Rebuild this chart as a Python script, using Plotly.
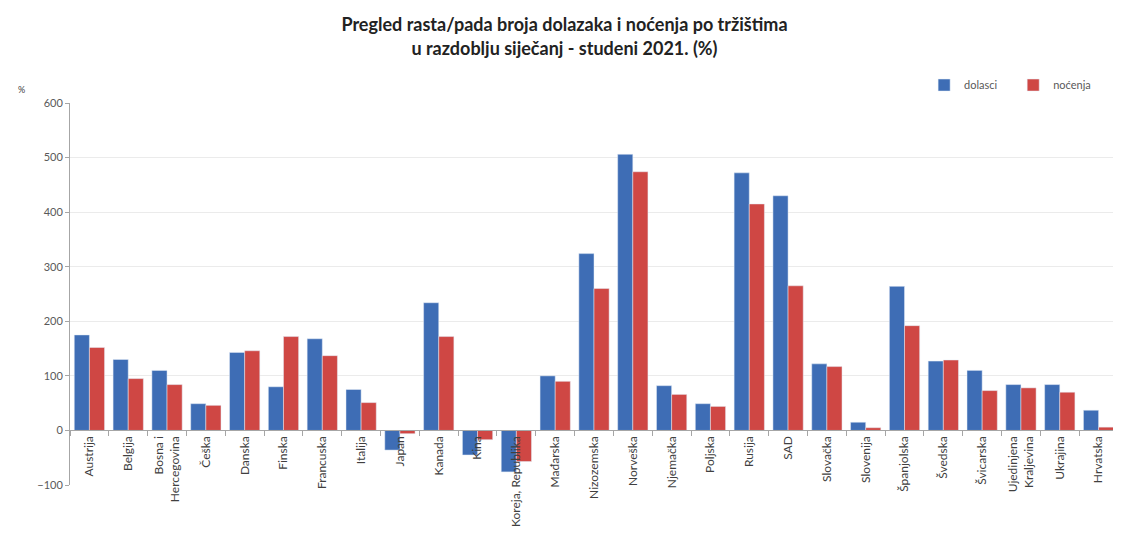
import plotly.graph_objects as go

# categories (markets) and growth values in %
markets = [
    "Austrija", "Belgija", "Bosna i<br>Hercegovina", "Češka", "Danska", "Finska",
    "Francuska", "Italija", "Japan", "Kanada", "Kina", "Koreja, Republika",
    "Mađarska", "Nizozemska", "Norveška", "Njemačka", "Poljska", "Rusija", "SAD",
    "Slovačka", "Slovenija", "Španjolska", "Švedska", "Švicarska",
    "Ujedinjena<br>Kraljevina", "Ukrajina", "Hrvatska",
]
dolasci = [175, 130, 110, 49, 143, 80, 168, 75, -36, 234, -45, -76,
           100, 324, 506, 82, 49, 472, 430, 122, 15, 264, 127, 110, 84, 84, 37]
nocenja = [152, 95, 84, 46, 146, 172, 137, 51, -6, 172, -17, -57,
           90, 260, 474, 66, 44, 415, 265, 117, 5, 192, 129, 73, 78, 70, 6]
y_ticks = [-100, 0, 100, 200, 300, 400, 500, 600]

BLUE = "#3E6DB5"
RED = "#CF4744"
FONT = "Lato, 'Open Sans', sans-serif"

fig = go.Figure()
fig.add_trace(go.Bar(x=markets, y=dolasci, name="dolasci", marker_color=BLUE,
                     legend="legend", showlegend=True))
fig.add_trace(go.Bar(x=markets, y=nocenja, name="noćenja", marker_color=RED,
                     legend="legend2", showlegend=True))

y_min, y_max = -100, 600
zero_pos = (0 - y_min) / (y_max - y_min)

legend_style = dict(
    orientation="h", y=1.047, xanchor="left", yanchor="middle",
    font=dict(size=11, color="#595959"), bgcolor="rgba(0,0,0,0)",
)

# page body adds an 8px margin, so the figure is a bit smaller than the window
fig.update_layout(
    width=1113, height=539,
    margin=dict(l=62, r=3, t=95, b=62),
    showlegend=True,
    plot_bgcolor="white", paper_bgcolor="white",
    barmode="group", bargap=0.22, bargroupgap=0,
    font=dict(family=FONT, size=11, color="#404040"),
    title=dict(
        text="Pregled rasta/pada broja dolazaka i noćenja po tržištima<br>u razdoblju siječanj - studeni 2021. (%)",
        x=0.5, xanchor="center", y=0.957, yanchor="middle",
        font=dict(family=FONT, size=18, color="#222222", weight="bold"),
    ),
    legend=dict(x=0.815, **legend_style),
    legend2=dict(x=0.9, **legend_style),
    xaxis=dict(
        anchor="free", position=zero_pos, showgrid=False,
        showline=True, linecolor="#A6A6A6", linewidth=1,
        ticks="outside", tickson="boundaries", ticklen=5, tickcolor="#A6A6A6",
        tickangle=-90, tickfont=dict(size=12, color="#404040"),
    ),
    yaxis=dict(
        range=[y_min, y_max], tickvals=y_ticks, showgrid=True, gridcolor="#EBEBEB",
        zeroline=False, showline=True, linecolor="#A6A6A6", linewidth=1,
        ticks="outside", ticklen=4, tickcolor="#A6A6A6",
        tickfont=dict(size=11, color="#595959"),
    ),
)

fig.add_annotation(
    text="%", xref="paper", yref="paper", x=-0.052, y=1.055,
    showarrow=False, font=dict(size=9, color="#404040"),
)

fig.write_html("out.html")
